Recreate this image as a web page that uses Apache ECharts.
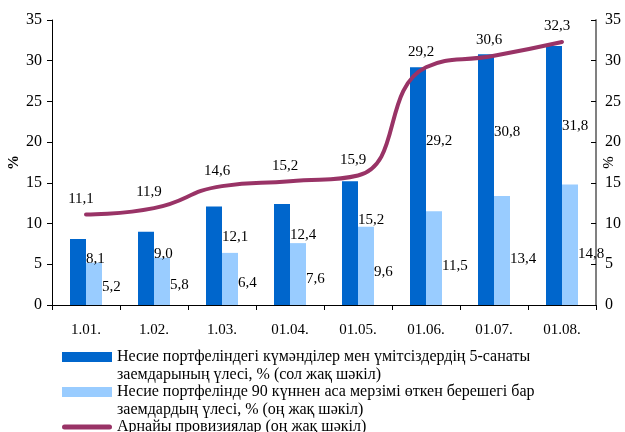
<html>
    <head>
        <meta charset="utf-8">
        <style>
            html, body { margin: 0; padding: 0; background: #fff; }
            #main { width: 625px; height: 432px; }
        </style>
    </head>
    <body>
        <div id="main"></div>
        <script src="https://cdn.jsdelivr.net/npm/echarts@6/dist/echarts.min.js"></script>
        <script>
            var months = ['1.01.', '1.02.', '1.03.', '01.04.', '01.05.', '01.06.', '01.07.', '01.08.'];
            var doubtful = [8.1, 9.0, 12.1, 12.4, 15.2, 29.2, 30.8, 31.8];
            var overdue = [5.2, 5.8, 6.4, 7.6, 9.6, 11.5, 13.4, 14.8];
            var provisions = [11.1, 11.9, 14.6, 15.2, 15.9, 29.2, 30.6, 32.3];
            var yTicks = { min: 0, max: 35, interval: 5 };

            var names = [
                'Несие портфеліндегі күмәнділер мен үмітсіздердің 5-санаты\nзаемдарының үлесі, % (сол жақ шәкіл)',
                'Несие портфелінде 90 күннен аса мерзімі өткен берешегі бар\nзаемдардың үлесі, % (оң жақ шәкіл)',
                'Арнайы провизиялар (оң жақ шәкіл)'
            ];

            var font = 'Liberation Serif';
            var fmt = function (p) { return p.value.toFixed(1).replace('.', ','); };

            var chart = echarts.init(document.getElementById('main'));

            chart.setOption({
                animation: false,
                textStyle: { fontFamily: font, color: '#000' },
                grid: { left: 52, right: 29, top: 20, bottom: 127, outerBoundsMode: 'none', containLabel: false },
                legend: {
                    orient: 'vertical',
                    left: 62,
                    top: 330,
                    height: 200,
                    padding: 0,
                    itemWidth: 50,
                    itemHeight: 10,
                    itemGap: -19,
                    textGap: 5,
                    itemStyle: { borderWidth: 0 },
                    // blank first line keeps the swatch level with the first text line
                    formatter: function (name) {
                        return name === names[2] ? ' \n' + name + '\n ' : ' \n' + name;
                    },
                    textStyle: { fontFamily: font, fontSize: 16, lineHeight: 18, color: '#000' },
                    data: [
                        { name: names[0], icon: 'rect' },
                        { name: names[1], icon: 'rect' },
                        { name: names[2], icon: 'path://M2.5,0 L47.5,0 A2.5,2.5 0 0 1 47.5,5 L2.5,5 A2.5,2.5 0 0 1 2.5,0 Z' }
                    ]
                },
                xAxis: {
                    type: 'category',
                    data: months,
                    axisLine: { lineStyle: { color: '#000', width: 1 } },
                    axisTick: { show: true, length: 5, lineStyle: { color: '#000' } },
                    axisLabel: { fontFamily: font, fontSize: 15, color: '#000', margin: 18 }
                },
                yAxis: [{
                    type: 'value',
                    min: yTicks.min, max: yTicks.max, interval: yTicks.interval,
                    name: '%',
                    nameLocation: 'middle',
                    nameRotate: 90,
                    nameGap: 30,
                    nameMoveOverlap: false,
                    nameTextStyle: { fontFamily: font, fontSize: 15, fontWeight: 'bold', color: '#000' },
                    splitLine: { show: false },
                    axisLine: { show: true, lineStyle: { color: '#000' } },
                    axisTick: { show: true, length: 5, lineStyle: { color: '#000' } },
                    axisLabel: { fontFamily: font, fontSize: 16, color: '#000', margin: 10 }
                }, {
                    type: 'value',
                    position: 'right',
                    min: yTicks.min, max: yTicks.max, interval: yTicks.interval,
                    name: '%',
                    nameLocation: 'middle',
                    nameRotate: 90,
                    nameGap: 6,
                    nameMoveOverlap: false,
                    nameTextStyle: { fontFamily: font, fontSize: 15, color: '#000' },
                    splitLine: { show: false },
                    axisLine: { show: true, lineStyle: { color: '#808080', width: 2 } },
                    axisTick: { show: true, inside: true, length: 5, lineStyle: { color: '#000' } },
                    axisLabel: { fontFamily: font, fontSize: 16, color: '#000', margin: 9 }
                }],
                series: [{
                    name: names[0],
                    type: 'bar',
                    yAxisIndex: 0,
                    barWidth: 16,
                    barGap: '0%',
                    itemStyle: { color: '#0066CC' },
                    label: {
                        show: true,
                        position: ['100%', '31%'],
                        align: 'left',
                        verticalAlign: 'middle',
                        fontFamily: font, fontSize: 15, color: '#000',
                        formatter: fmt
                    },
                    data: doubtful
                }, {
                    name: names[1],
                    type: 'bar',
                    yAxisIndex: 1,
                    barWidth: 16,
                    barGap: '0%',
                    itemStyle: { color: '#99CCFF' },
                    label: {
                        show: true,
                        position: ['100%', '58%'],
                        align: 'left',
                        verticalAlign: 'middle',
                        fontFamily: font, fontSize: 15, color: '#000',
                        formatter: fmt
                    },
                    data: overdue
                }, {
                    name: names[2],
                    type: 'line',
                    yAxisIndex: 1,
                    smooth: 0.5,
                    symbol: 'circle',
                    symbolSize: 0.1,
                    lineStyle: { color: '#993366', width: 4, cap: 'round' },
                    itemStyle: { color: '#993366' },
                    label: {
                        show: true,
                        position: 'top',
                        distance: 8,
                        offset: [-5, 0],
                        fontFamily: font, fontSize: 15, color: '#000',
                        formatter: fmt
                    },
                    data: provisions
                }]
            });

            window.onresize = chart.resize;
        </script>
    </body>
</html>
